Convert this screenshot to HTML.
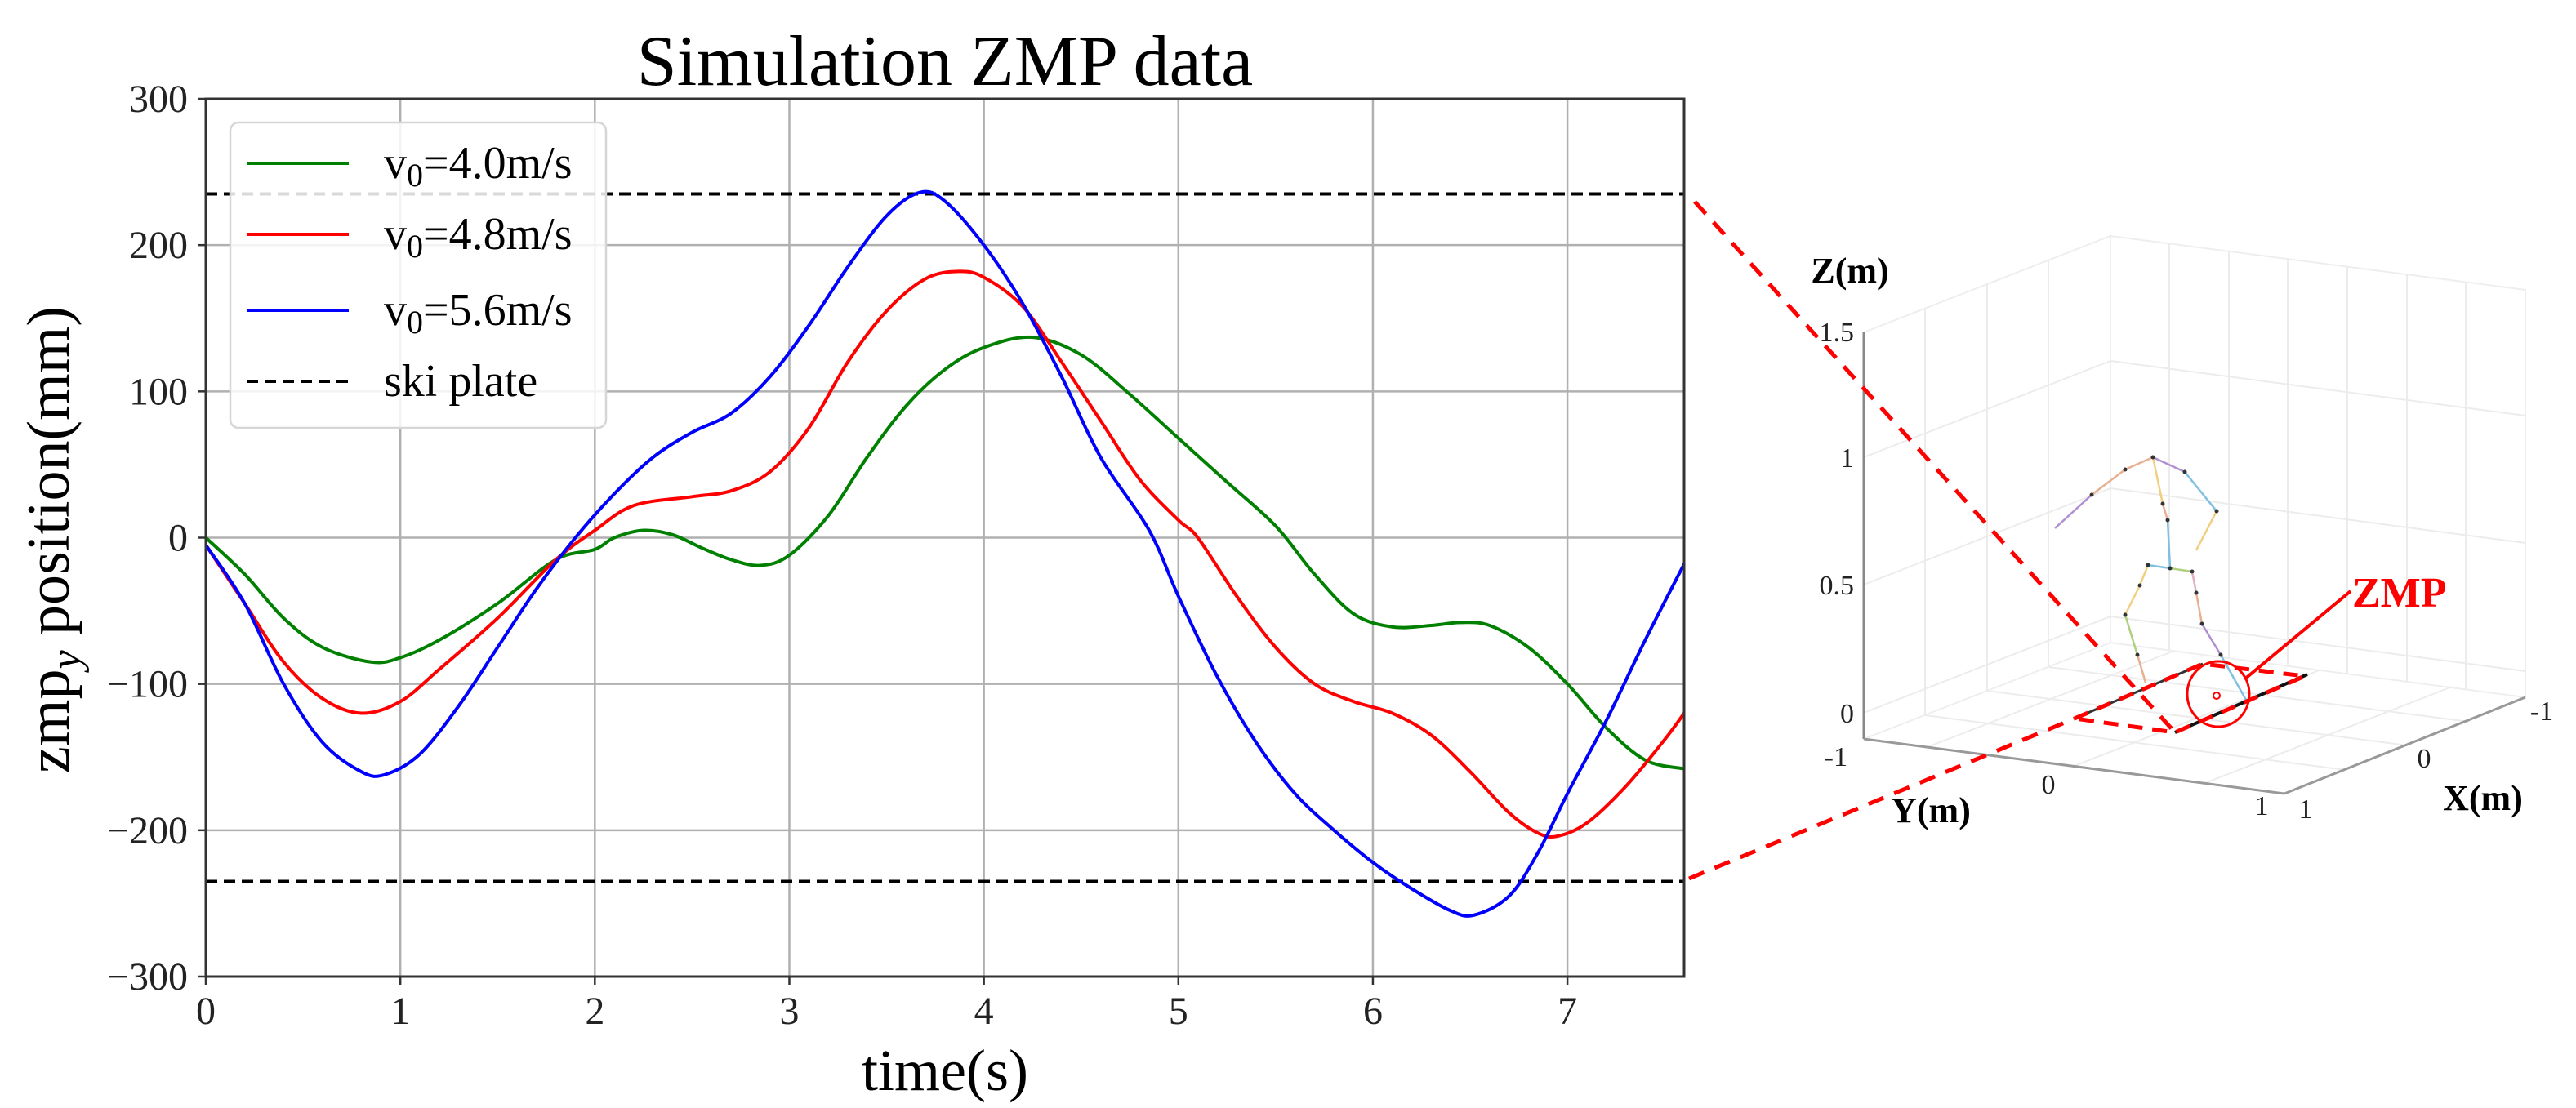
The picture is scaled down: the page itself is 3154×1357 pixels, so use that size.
<!DOCTYPE html>
<html><head><meta charset="utf-8"><style>
html,body{margin:0;padding:0;background:#fff;}
svg{display:block;font-family:"Liberation Serif",serif;}
</style></head><body>
<svg id="chart" width="3154" height="1357" viewBox="0 0 3154 1357" xmlns="http://www.w3.org/2000/svg">
<g id="grid"></g>
<g id="ticks"></g>
<g id="series"></g>
<rect x="252" y="121" width="1810" height="1075" fill="none" stroke="#333" stroke-width="3"/>
<text x="1157" y="104" font-size="88" text-anchor="middle" fill="#000">Simulation ZMP data</text>
<text x="1157" y="1335" font-size="72" text-anchor="middle" fill="#000">time(s)</text>
<text transform="translate(84,661) rotate(-90)" font-size="74" text-anchor="middle" fill="#000">zmp<tspan font-style="italic" font-size="52" dy="14">y</tspan><tspan dy="-14"> position(mm)</tspan></text>
<g>
<rect x="282" y="150" width="460" height="374" rx="10" fill="#fff" fill-opacity="0.85" stroke="#d6d6d6" stroke-width="2.5"/>
<line x1="302" y1="200" x2="427" y2="200" stroke="#008000" stroke-width="4"/>
<text x="470" y="218" font-size="56">v<tspan font-size="40" dy="10">0</tspan><tspan dy="-10">=4.0m/s</tspan></text>
<line x1="302" y1="287" x2="427" y2="287" stroke="#ff0000" stroke-width="4"/>
<text x="470" y="305" font-size="56">v<tspan font-size="40" dy="10">0</tspan><tspan dy="-10">=4.8m/s</tspan></text>
<line x1="302" y1="380" x2="427" y2="380" stroke="#0000ff" stroke-width="4"/>
<text x="470" y="398" font-size="56">v<tspan font-size="40" dy="10">0</tspan><tspan dy="-10">=5.6m/s</tspan></text>
<line x1="302" y1="467" x2="427" y2="467" stroke="#000" stroke-width="4" stroke-dasharray="14,8"/>
<text x="470" y="485" font-size="56">ski plate</text>
</g>

<g>
<polygon points="2282,905 2584,787 2584,289 2282,407" fill="none" stroke="#eee" stroke-width="2"/>
<polygon points="2584,787 3092,854 3092,355 2584,289" fill="none" stroke="#eee" stroke-width="2"/>
<g stroke="#ececec" stroke-width="2">
<line x1="2357" y1="876" x2="2357" y2="378"/><line x1="2433" y1="846" x2="2433" y2="348"/><line x1="2508" y1="817" x2="2508" y2="319"/>
<line x1="2656" y1="796" x2="2656" y2="298"/><line x1="2729" y1="806" x2="2729" y2="308"/><line x1="2801" y1="815" x2="2801" y2="317"/><line x1="2874" y1="825" x2="2874" y2="327"/><line x1="2947" y1="835" x2="2947" y2="336"/><line x1="3019" y1="844" x2="3019" y2="346"/>
<line x1="2282" y1="873" x2="2584" y2="755"/><line x1="2584" y1="755" x2="3092" y2="822"/>
<line x1="2282" y1="716" x2="2584" y2="598"/><line x1="2584" y1="598" x2="3092" y2="665"/>
<line x1="2282" y1="560" x2="2584" y2="442"/><line x1="2584" y1="442" x2="3092" y2="509"/>
<line x1="2360" y1="915" x2="2662" y2="797"/><line x1="2540" y1="938" x2="2842" y2="820"/><line x1="2700" y1="959" x2="3002" y2="841"/>
<line x1="2357" y1="876" x2="2872" y2="943"/><line x1="2433" y1="846" x2="2948" y2="913"/><line x1="2508" y1="817" x2="3023" y2="884"/>
</g>
<line x1="2282" y1="407" x2="2282" y2="905" stroke="#888" stroke-width="3"/>
<line x1="2282" y1="905" x2="2797" y2="972" stroke="#999" stroke-width="3"/>
<line x1="2797" y1="972" x2="3092" y2="854" stroke="#999" stroke-width="3"/>
<g font-size="34" fill="#222">
<text x="2270" y="418" text-anchor="end">1.5</text><text x="2270" y="572" text-anchor="end">1</text><text x="2270" y="728" text-anchor="end">0.5</text><text x="2270" y="885" text-anchor="end">0</text>
<text x="2262" y="938" text-anchor="end">-1</text><text x="2508" y="972" text-anchor="middle">0</text><text x="2769" y="998" text-anchor="middle">1</text>
<text x="2823" y="1002" text-anchor="middle">1</text><text x="2968" y="940" text-anchor="middle">0</text><text x="3112" y="882" text-anchor="middle">-1</text>
</g>
<text x="2265" y="346" font-size="44" font-weight="bold" text-anchor="middle">Z(m)</text>
<text x="2364" y="1007" font-size="44" font-weight="bold" text-anchor="middle">Y(m)</text>
<text x="3040" y="992" font-size="44" font-weight="bold" text-anchor="middle">X(m)</text>
<g stroke-width="2.5" fill="none">
<line x1="2636" y1="560" x2="2602" y2="575" stroke="#e8b090"/><line x1="2602" y1="575" x2="2561" y2="606" stroke="#e8b090"/><line x1="2561" y1="606" x2="2516" y2="647" stroke="#b090d0"/>
<line x1="2636" y1="560" x2="2675" y2="578" stroke="#b090d0"/><line x1="2675" y1="578" x2="2714" y2="626" stroke="#80c0e0"/><line x1="2714" y1="626" x2="2689" y2="674" stroke="#f0d080"/>
<line x1="2636" y1="560" x2="2648" y2="617" stroke="#f0d080"/><line x1="2648" y1="617" x2="2654" y2="637" stroke="#e8b090"/><line x1="2654" y1="637" x2="2657" y2="696" stroke="#80c0e0"/>
<line x1="2657" y1="696" x2="2630" y2="692" stroke="#80c0e0"/><line x1="2657" y1="696" x2="2684" y2="700" stroke="#b0d080"/>
<line x1="2630" y1="692" x2="2620" y2="717" stroke="#f0d080"/><line x1="2620" y1="717" x2="2602" y2="753" stroke="#f0d080"/><line x1="2602" y1="753" x2="2617" y2="802" stroke="#b0d080"/><line x1="2617" y1="802" x2="2627" y2="836" stroke="#e8b090"/>
<line x1="2684" y1="700" x2="2689" y2="726" stroke="#e0b0c0"/><line x1="2689" y1="726" x2="2696" y2="764" stroke="#e8b090"/><line x1="2696" y1="764" x2="2719" y2="802" stroke="#b090d0"/><line x1="2719" y1="802" x2="2751" y2="859" stroke="#80c0e0"/>
</g>
<g fill="#333">
<circle cx="2636" cy="560" r="2.5"/><circle cx="2602" cy="575" r="2.5"/><circle cx="2561" cy="606" r="2.5"/><circle cx="2675" cy="578" r="2.5"/><circle cx="2714" cy="626" r="2.5"/><circle cx="2648" cy="617" r="2.5"/><circle cx="2654" cy="637" r="2.5"/><circle cx="2657" cy="696" r="2.5"/><circle cx="2630" cy="692" r="2.5"/><circle cx="2684" cy="700" r="2.5"/><circle cx="2620" cy="717" r="2.5"/><circle cx="2602" cy="753" r="2.5"/><circle cx="2617" cy="802" r="2.5"/><circle cx="2689" cy="726" r="2.5"/><circle cx="2696" cy="764" r="2.5"/><circle cx="2719" cy="802" r="2.5"/>
</g>
<line x1="2540" y1="880" x2="2697" y2="813" stroke="#333" stroke-width="3"/>
<line x1="2663" y1="897" x2="2825" y2="826" stroke="#111" stroke-width="4"/>
<polygon points="2540,880 2697,813 2822,828 2663,897" fill="none" stroke="#ff0000" stroke-width="5" stroke-dasharray="18,12"/>
<ellipse cx="2716" cy="850" rx="38" ry="40" fill="none" stroke="#ff0000" stroke-width="3"/>
<circle cx="2714" cy="852" r="4" fill="none" stroke="#ff0000" stroke-width="2"/>
<line x1="2748" y1="832" x2="2878" y2="724" stroke="#ff0000" stroke-width="4"/>
<text x="2880" y="743" font-size="52" font-weight="bold" fill="#ff0000">ZMP</text>
</g>
<line x1="2075" y1="247" x2="2663" y2="897" stroke="#ff0000" stroke-width="5" stroke-dasharray="20,14"/>
<line x1="2068" y1="1076" x2="2540" y2="880" stroke="#ff0000" stroke-width="5" stroke-dasharray="20,14"/>
</svg>
<script>
const times40 = [0,0.2,0.4,0.6,0.85,1.0,1.2,1.5,1.8,2.0,2.1,2.25,2.4,2.55,2.7,2.85,3.0,3.2,3.4,3.6,3.8,4.0,4.25,4.5,4.75,5.0,5.25,5.5,5.7,5.9,6.1,6.3,6.45,6.6,6.8,7.0,7.2,7.4,7.6];
const zmp40 = [0,-25,-55,-75,-85,-82,-70,-45,-15,-8,0,5,2,-7,-15,-19,-12,15,55,90,115,130,137,125,98,68,38,8,-25,-52,-61,-60,-58,-60,-75,-100,-130,-152,-158];
const times48 = [0,0.2,0.4,0.6,0.8,1.0,1.2,1.5,1.8,2.0,2.2,2.5,2.7,2.9,3.1,3.3,3.5,3.7,3.87,4.0,4.2,4.4,4.6,4.8,5.0,5.1,5.3,5.5,5.7,5.9,6.1,6.3,6.5,6.7,6.85,6.95,7.1,7.3,7.5,7.6];
const zmp48 = [-5,-45,-85,-110,-120,-112,-90,-55,-15,5,22,28,32,45,75,120,155,177,182,178,158,120,80,40,12,0,-40,-75,-100,-112,-120,-135,-160,-188,-202,-204,-195,-170,-138,-120];
const times56 = [0,0.2,0.4,0.6,0.8,0.92,1.1,1.3,1.5,1.7,1.9,2.1,2.3,2.5,2.7,2.9,3.1,3.3,3.5,3.67,3.8,4.0,4.2,4.4,4.6,4.85,5.0,5.2,5.4,5.6,5.8,6.0,6.2,6.4,6.52,6.7,6.85,7.0,7.2,7.4,7.6];
const zmp56 = [-5,-45,-100,-140,-160,-162,-148,-115,-75,-35,0,30,55,72,85,110,145,185,220,236,230,200,160,110,55,5,-40,-95,-140,-175,-200,-222,-240,-255,-258,-245,-215,-175,-125,-70,-18];
const skiPlate = [235,-235];
const xTicks = [0,1,2,3,4,5,6,7];
const yTicks = [-300,-200,-100,0,100,200,300];
const yTickLabels = ["\u2212300","\u2212200","\u2212100","0","100","200","300"];

const NS = "http://www.w3.org/2000/svg";
const X0=252, X1=2062, Y0=121, Y1=1196, TMAX=7.6, VMIN=-300, VMAX=300;
function xs(t){return X0+(t/TMAX)*(X1-X0);}
function ys(v){return Y0+(VMAX-v)/(VMAX-VMIN)*(Y1-Y0);}
function mk(tag,attrs,parent){const e=document.createElementNS(NS,tag);for(const k in attrs)e.setAttribute(k,attrs[k]);parent.appendChild(e);return e;}
const grid=document.getElementById('grid'), ticks=document.getElementById('ticks'), series=document.getElementById('series');
xTicks.forEach((t,i)=>{
  const g=mk('line',{x1:xs(t),x2:xs(t),y1:Y0,y2:Y1,stroke:'#b0b0b0','stroke-width':2.5},grid);
  
  
  const tk=mk('line',{x1:xs(t),x2:xs(t),y1:Y1,y2:Y1+10,stroke:'#333','stroke-width':2.5},ticks);
  
  
  const tx=mk('text',{x:xs(t),y:Y1+58,'font-size':48,'text-anchor':'middle',fill:'#222'},ticks);
  tx.textContent=String(t);
  
  
});
yTicks.forEach((v,i)=>{
  const g=mk('line',{x1:X0,x2:X1,y1:ys(v),y2:ys(v),stroke:'#b0b0b0','stroke-width':2.5},grid);
  
  
  const tk=mk('line',{x1:X0-10,x2:X0,y1:ys(v),y2:ys(v),stroke:'#333','stroke-width':2.5},ticks);
  
  
  const tx=mk('text',{x:X0-22,y:ys(v)+16,'font-size':48,'text-anchor':'end',fill:'#222'},ticks);
  tx.textContent=yTickLabels[i];
  
  
});
skiPlate.forEach(v=>{
  const l=mk('line',{x1:X0,x2:X1,y1:ys(v),y2:ys(v),stroke:'#000','stroke-width':4,'stroke-dasharray':'14,8'},series);
  
  
});
function smoothPath(ts,vs){
  const p=ts.map((t,i)=>[xs(t),ys(vs[i])]);
  let d='M'+p[0][0]+','+p[0][1];
  for(let i=0;i<p.length-1;i++){
    const a=p[Math.max(0,i-1)],b=p[i],c=p[i+1],e=p[Math.min(p.length-1,i+2)];
    const c1=[b[0]+(c[0]-a[0])/6,b[1]+(c[1]-a[1])/6],c2=[c[0]-(e[0]-b[0])/6,c[1]-(e[1]-b[1])/6];
    d+=' C'+c1[0]+','+c1[1]+' '+c2[0]+','+c2[1]+' '+c[0]+','+c[1];
  }
  return d;
}
const s1=mk('path',{d:smoothPath(times40,zmp40),fill:'none',stroke:'#008000','stroke-width':4},series);


const s2=mk('path',{d:smoothPath(times48,zmp48),fill:'none',stroke:'#ff0000','stroke-width':4},series);


const s3=mk('path',{d:smoothPath(times56,zmp56),fill:'none',stroke:'#0000ff','stroke-width':4},series);


</script>
</body></html>
